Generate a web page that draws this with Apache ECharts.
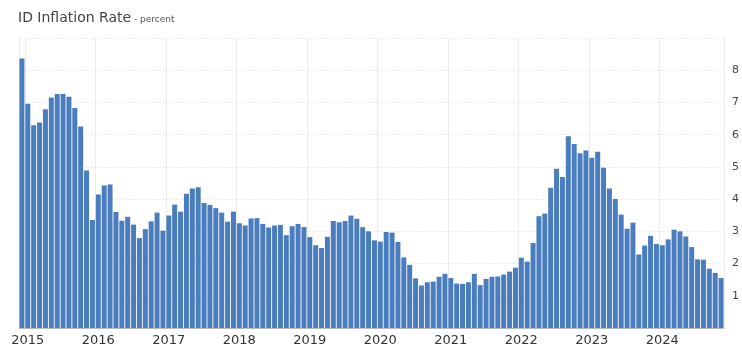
<!DOCTYPE html>
<html>
<head>
<meta charset="utf-8">
<script src="https://cdn.jsdelivr.net/npm/echarts@6/dist/echarts.min.js"></script>
<style>html,body{margin:0;padding:0;background:#fff;}#c{width:742px;height:350px;}</style>
</head>
<body>
<div id="c"></div>
<script>
const years = ['2015','2016','2017','2018','2019','2020','2021','2022','2023','2024'];
const months = ['2014-12'];
for (const y of years) { for (let m = 1; m <= 12; m++) { if (y === '2024' && m === 12) break; months.push(y + '-' + String(m).padStart(2,'0')); } }
const v2014 = [8.36];
const v2015 = [6.96, 6.29, 6.38, 6.79, 7.15, 7.26, 7.26, 7.18, 6.83, 6.25, 4.89, 3.35];
const v2016 = [4.14, 4.42, 4.45, 3.60, 3.33, 3.45, 3.21, 2.79, 3.07, 3.31, 3.58, 3.02];
const v2017 = [3.49, 3.83, 3.61, 4.17, 4.33, 4.37, 3.88, 3.82, 3.72, 3.58, 3.30, 3.61];
const v2018 = [3.25, 3.18, 3.40, 3.41, 3.23, 3.12, 3.18, 3.20, 2.88, 3.16, 3.23, 3.13];
const v2019 = [2.82, 2.57, 2.48, 2.83, 3.32, 3.28, 3.32, 3.49, 3.39, 3.13, 3.00, 2.72];
const v2020 = [2.68, 2.98, 2.96, 2.67, 2.19, 1.96, 1.54, 1.32, 1.42, 1.44, 1.59, 1.68];
const v2021 = [1.55, 1.38, 1.37, 1.42, 1.68, 1.33, 1.52, 1.59, 1.60, 1.66, 1.75, 1.87];
const v2022 = [2.18, 2.06, 2.64, 3.47, 3.55, 4.35, 4.94, 4.69, 5.95, 5.71, 5.42, 5.51];
const v2023 = [5.28, 5.47, 4.97, 4.33, 4.00, 3.52, 3.08, 3.27, 2.28, 2.56, 2.86, 2.61];
const v2024 = [2.57, 2.75, 3.05, 3.00, 2.84, 2.51, 2.13, 2.12, 1.84, 1.71, 1.55];
const values = [].concat(v2014, v2015, v2016, v2017, v2018, v2019, v2020, v2021, v2022, v2023, v2024);
const yTicks = [1,2,3,4,5,6,7,8];

const chart = echarts.init(document.getElementById('c'));
const isJan = (i) => months[i] && months[i].endsWith('-01');
const FONT = 'DejaVu Sans';
chart.setOption({
  animation: false,
  title: {
    text: '{a|ID Inflation Rate}{b| - percent}',
    left: 13, top: 6,
    textStyle: { rich: {
      a: { fontFamily: FONT, fontSize: 14, fontWeight: 'normal', color: '#444' },
      b: { fontFamily: FONT, fontSize: 9, fontWeight: 'normal', color: '#555', padding: [3,0,0,0] }
    } }
  },
  grid: { left: 19, right: 15, top: 38, bottom: 22 },
  xAxis: {
    type: 'category', data: months,
    axisLine: { show: true, lineStyle: { color: '#bbb' } },
    axisTick: { show: false },
    axisLabel: {
      interval: (i) => isJan(i),
      formatter: (v) => v.slice(0,4),
      color: '#333', fontFamily: FONT, fontSize: 13, margin: 6
    },
    splitLine: { show: true, interval: (i) => i === 0 || isJan(i), lineStyle: { color: '#ececec' } }
  },
  yAxis: {
    type: 'value', position: 'right', min: 0, max: 9, interval: 1,
    axisLine: { show: false }, axisTick: { show: false },
    axisLabel: {
      formatter: (v) => yTicks.includes(v) ? String(v) : '',
      color: '#444', fontFamily: FONT, fontSize: 11, margin: 8
    },
    splitLine: { lineStyle: { color: '#eeeeee', type: 'dashed' } }
  },
  series: [{
    type: 'bar', data: values, barCategoryGap: '15%',
    itemStyle: { color: '#4a7dbd' }
  }]
});
</script>
</body>
</html>
